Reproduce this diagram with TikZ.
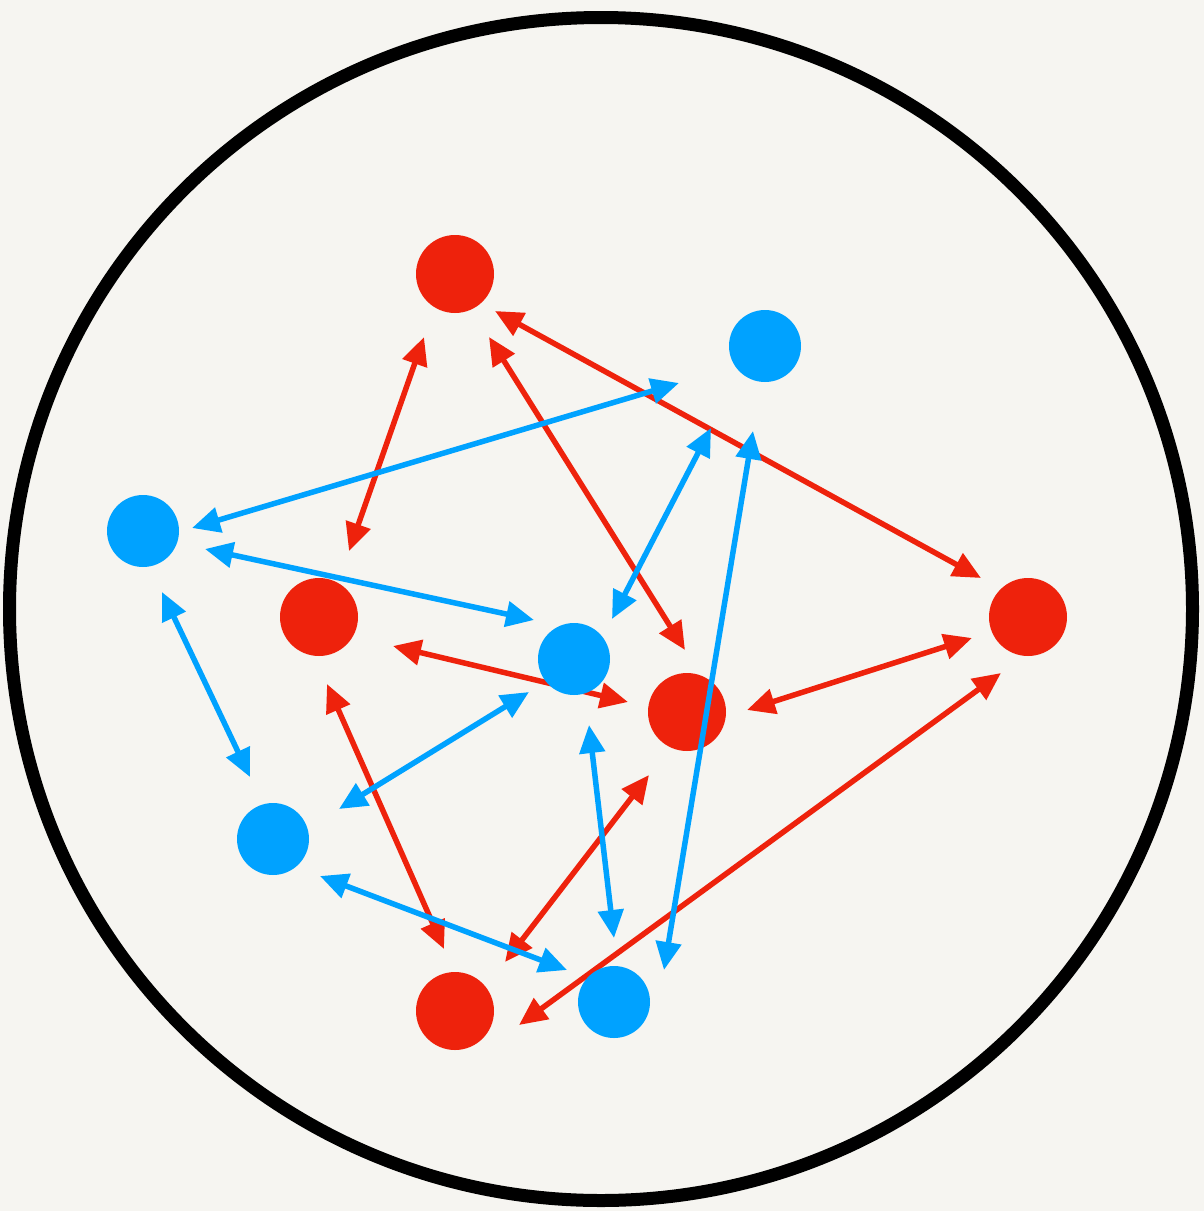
\documentclass[tikz,border=0pt]{standalone}
\usetikzlibrary{arrows.meta}
\definecolor{bg}{HTML}{F6F5F1}
\definecolor{myred}{HTML}{EE220C}
\definecolor{myblue}{HTML}{00A2FF}
\tikzset{
  rnode/.style={circle,fill=myred,minimum size=78pt,inner sep=0pt,draw=none},
  bnode/.style={circle,fill=myblue,minimum size=72pt,inner sep=0pt,draw=none},
  link/.style={line width=5.5pt,{Triangle[length=28pt,width=25pt]}-{Triangle[length=28pt,width=25pt]}},
  rlink/.style={link,draw=myred,fill=myred},
  blink/.style={link,draw=myblue,fill=myblue}
}
\begin{document}
\begin{tikzpicture}[x=1pt,y=-1pt]
\fill[bg] (0,0) rectangle (1204,1211);
\useasboundingbox (0,0) rectangle (1204,1211);
\draw[line width=13pt,black] (601,609) circle[radius=591.5pt];
% arrow end coordinates
\coordinate (r12a) at (424,337); \coordinate (r12b) at (349,551);
\coordinate (r14a) at (495,311); \coordinate (r14b) at (981,578);
\coordinate (r13a) at (489,337); \coordinate (r13b) at (685,650);
\coordinate (r23a) at (393,646); \coordinate (r23b) at (628,702);
\coordinate (r43a) at (972,638); \coordinate (r43b) at (747,710);
\coordinate (r25a) at (327,684); \coordinate (r25b) at (444,949);
\coordinate (r35a) at (649,775); \coordinate (r35b) at (505,962);
\coordinate (r45a) at (1001,673); \coordinate (r45b) at (519,1025);
\coordinate (b12a) at (679,383); \coordinate (b12b) at (192,528);
\coordinate (b13a) at (711,428); \coordinate (b13b) at (612,619);
\coordinate (b15a) at (753,431); \coordinate (b15b) at (664,970);
\coordinate (b23a) at (205,549); \coordinate (b23b) at (534,620);
\coordinate (b24a) at (162,592); \coordinate (b24b) at (250,777);
\coordinate (b34a) at (529,692); \coordinate (b34b) at (339,809);
\coordinate (b35a) at (589,725); \coordinate (b35b) at (614,938);
\coordinate (b45a) at (320,876); \coordinate (b45b) at (567,970);
% red connectors
\draw[rlink] (r12a) -- (r12b);
\draw[rlink] (r14a) -- (r14b);
\draw[rlink] (r13a) -- (r13b);
\draw[rlink] (r23a) -- (r23b);
\draw[rlink] (r43a) -- (r43b);
\draw[rlink] (r25a) -- (r25b);
\draw[rlink] (r35a) -- (r35b);
\draw[rlink] (r45a) -- (r45b);
% nodes
\node[rnode] (R1) at (455,274) {};
\node[rnode] (R2) at (319,617) {};
\node[rnode] (R3) at (687,712) {};
\node[rnode] (R4) at (1028,617) {};
\node[rnode] (R5) at (455,1011) {};
\node[bnode] (B1) at (765,346) {};
\node[bnode] (B2) at (143,531) {};
\node[bnode] (B3) at (574,659) {};
\node[bnode] (B4) at (273,839) {};
\node[bnode] (B5) at (614,1002) {};
% blue connectors
\draw[blink] (b12a) -- (b12b);
\draw[blink] (b13a) -- (b13b);
\draw[blink] (b15a) -- (b15b);
\draw[blink] (b23a) -- (b23b);
\draw[blink] (b24a) -- (b24b);
\draw[blink] (b34a) -- (b34b);
\draw[blink] (b35a) -- (b35b);
\draw[blink] (b45a) -- (b45b);
\end{tikzpicture}
\end{document}
